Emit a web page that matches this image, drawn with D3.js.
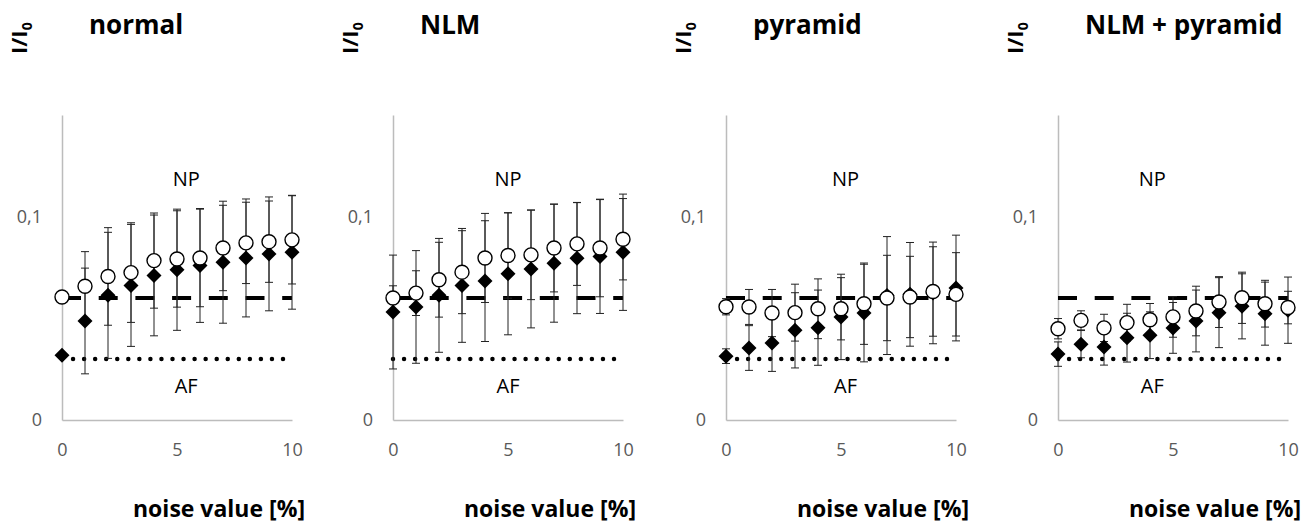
<!DOCTYPE html>
<html lang="en">
<head>
<meta charset="utf-8">
<title>I/I0 vs noise value</title>
<script src="https://cdn.jsdelivr.net/npm/d3@7/dist/d3.min.js"></script>
<style>
  body { margin: 0; background: #fff; }
  text { font-family: "Open Sans", "Liberation Sans", sans-serif; }
</style>
</head>
<body>
<svg id="chart" width="1314" height="524"></svg>
<script>
// noise levels (x) and panel titles
var noise = [0, 1, 2, 3, 4, 5, 6, 7, 8, 9, 10];
var titles = ["normal", "NLM", "pyramid", "NLM + pyramid"];
var yTicks = [0, 0.1];
var xTicks = [0, 5, 10];

// reference levels
var npLevel = 0.06;   // dashed line
var afLevel = 0.03;   // dotted line

// open circles (NP) and filled diamonds (AF), with symmetric error bars
var normalNP     = [0.0605, 0.0658, 0.0706, 0.0725, 0.0784, 0.0792, 0.0797, 0.0846, 0.0871, 0.0877, 0.0886];
var normalNPErr  = [0, 0.017, 0.024, 0.0245, 0.0234, 0.0237, 0.024, 0.021, 0.020, 0.020, 0.0217];
var normalAF     = [0.0319, 0.0487, 0.0613, 0.0662, 0.0711, 0.0739, 0.076, 0.0776, 0.0797, 0.0817, 0.0825];
var normalAFErr  = [0, 0.026, 0.031, 0.030, 0.0297, 0.0298, 0.028, 0.030, 0.029, 0.028, 0.028];

var nlmNP        = [0.060, 0.0624, 0.069, 0.0727, 0.0797, 0.0809, 0.0812, 0.0846, 0.0866, 0.0846, 0.0889];
var nlmNPErr     = [0.006, 0.011, 0.0184, 0.0204, 0.0219, 0.021, 0.022, 0.0216, 0.0204, 0.024, 0.020];
var nlmAF        = [0.0531, 0.0556, 0.0613, 0.0662, 0.0683, 0.0719, 0.0743, 0.0771, 0.0796, 0.0804, 0.0825];
var nlmAFErr     = [0.028, 0.0277, 0.028, 0.028, 0.0297, 0.030, 0.029, 0.029, 0.0273, 0.028, 0.0286];

var pyrNP        = [0.0557, 0.0556, 0.0526, 0.0528, 0.0547, 0.0547, 0.0572, 0.060, 0.0605, 0.0632, 0.0618];
var pyrNPErr     = [0.004, 0.0086, 0.0116, 0.014, 0.0147, 0.0153, 0.020, 0.021, 0.020, 0.022, 0.0205];
var pyrAF        = [0.0314, 0.0354, 0.0379, 0.0441, 0.0454, 0.0507, 0.0526, 0.0612, 0.0618, 0.0625, 0.0649];
var pyrAFErr     = [0.0036, 0.011, 0.014, 0.0185, 0.0185, 0.021, 0.024, 0.029, 0.0255, 0.025, 0.026];

var nlmPyrNP     = [0.0449, 0.049, 0.0453, 0.0479, 0.0493, 0.0507, 0.0536, 0.058, 0.0601, 0.0572, 0.0553];
var nlmPyrNPErr  = [0.005, 0.0047, 0.0067, 0.009, 0.008, 0.010, 0.0122, 0.0125, 0.0126, 0.0115, 0.008];
var nlmPyrAF     = [0.0324, 0.0373, 0.0359, 0.0405, 0.0417, 0.0453, 0.0487, 0.0528, 0.0559, 0.0523, 0.054];
var nlmPyrAFErr  = [0.006, 0.0067, 0.0089, 0.012, 0.0115, 0.0125, 0.0152, 0.0172, 0.016, 0.0155, 0.0163];

var panels = [
  {np: normalNP, npErr: normalNPErr, af: normalAF, afErr: normalAFErr},
  {np: nlmNP, npErr: nlmNPErr, af: nlmAF, afErr: nlmAFErr},
  {np: pyrNP, npErr: pyrNPErr, af: pyrAF, afErr: pyrAFErr},
  {np: nlmPyrNP, npErr: nlmPyrNPErr, af: nlmPyrAF, afErr: nlmPyrAFErr}
];

// layout
var originX = [62, 393, 726, 1058];
var labelX = [5.4, 5.0, 5.2, 4.1];   // where the NP / AF words sit, in noise units
var plotTop = 115, plotH = 305, plotW = 230;

var svg = d3.select("#chart");
var x = d3.scaleLinear().domain([0, 10]).range([0, plotW]);
var y = d3.scaleLinear().domain([0, 0.15]).range([plotH, 0]);
var level = d3.line().x(function(d){ return x(d[0]); }).y(function(d){ return y(d[1]); });

panels.forEach(function(p, i) {
  var g = svg.append("g").attr("transform", "translate(" + originX[i] + "," + plotTop + ")");

  // axes
  var ya = g.append("g").call(d3.axisLeft(y).tickValues(yTicks).tickSize(0).tickPadding(20)
      .tickFormat(function(d){ return d === 0 ? "0" : String(d).replace(".", ","); }));
  var xa = g.append("g").attr("transform", "translate(0," + plotH + ")")
      .call(d3.axisBottom(x).tickValues(xTicks).tickSize(0).tickPadding(23));
  [ya, xa].forEach(function(a) {
    a.select(".domain").attr("stroke", "#bcbcbc").attr("stroke-width", 1.5);
    a.selectAll("text").attr("fill", "#595959").style("font-size", "18px");
  });

  // reference lines
  g.append("path").datum([[0, afLevel], [10, afLevel]]).attr("d", level)
    .attr("fill", "none").attr("stroke", "#000").attr("stroke-width", 4.5)
    .attr("stroke-linecap", "round").attr("stroke-dasharray", "0,11.05");
  g.append("path").datum([[0, npLevel], [10, npLevel]]).attr("d", level)
    .attr("fill", "none").attr("stroke", "#000").attr("stroke-width", 4)
    .attr("stroke-dasharray", "19,17.7");

  // error bars
  function errBars(vals, errs) {
    var eg = g.append("g").attr("stroke", "#222").attr("stroke-width", 1);
    noise.forEach(function(n, k) {
      if (!errs[k]) return;
      var cx = x(n), y1 = y(vals[k] + errs[k]), y2 = y(vals[k] - errs[k]);
      eg.append("line").attr("x1", cx).attr("x2", cx).attr("y1", y1).attr("y2", y2);
      eg.append("line").attr("x1", cx - 4).attr("x2", cx + 4).attr("y1", y1).attr("y2", y1);
      eg.append("line").attr("x1", cx - 4).attr("x2", cx + 4).attr("y1", y2).attr("y2", y2);
    });
  }
  errBars(p.af, p.afErr);
  errBars(p.np, p.npErr);

  // diamonds
  g.selectAll(".af").data(p.af).enter().append("path").attr("class", "af")
    .attr("d", "M0,-7.5L7.5,0L0,7.5L-7.5,0Z")
    .attr("transform", function(d, k){ return "translate(" + x(noise[k]) + "," + y(d) + ")"; })
    .attr("fill", "#000");

  // circles
  g.selectAll(".np").data(p.np).enter().append("circle").attr("class", "np")
    .attr("cx", function(d, k){ return x(noise[k]); })
    .attr("cy", function(d){ return y(d); })
    .attr("r", 7).attr("fill", "#fff").attr("stroke", "#000").attr("stroke-width", 1.4);

  // NP / AF words
  g.append("text").attr("x", x(labelX[i])).attr("y", y(0.1186)).attr("dy", "0.35em")
    .attr("text-anchor", "middle").style("font-size", "20px").text("NP");
  g.append("text").attr("x", x(labelX[i])).attr("y", y(0.0167)).attr("dy", "0.35em")
    .attr("text-anchor", "middle").style("font-size", "20px").text("AF");

  // title
  svg.append("text").attr("x", originX[i] + 27).attr("y", 34)
    .style("font-size", "26px").style("font-weight", "bold").text(titles[i]);

  // y label I/I0
  var yl = svg.append("text").attr("transform", "translate(" + (originX[i] - 35) + ",54) rotate(-90)")
    .style("font-size", "22px").style("font-weight", "bold");
  yl.append("tspan").text("I/I");
  yl.append("tspan").attr("dy", 5).style("font-size", "14px").text("0");

  // x label
  svg.append("text").attr("x", originX[i] + 243).attr("y", 517).attr("text-anchor", "end")
    .style("font-size", "23px").style("font-weight", "bold").text("noise value [%]");
});
</script>
</body>
</html>
